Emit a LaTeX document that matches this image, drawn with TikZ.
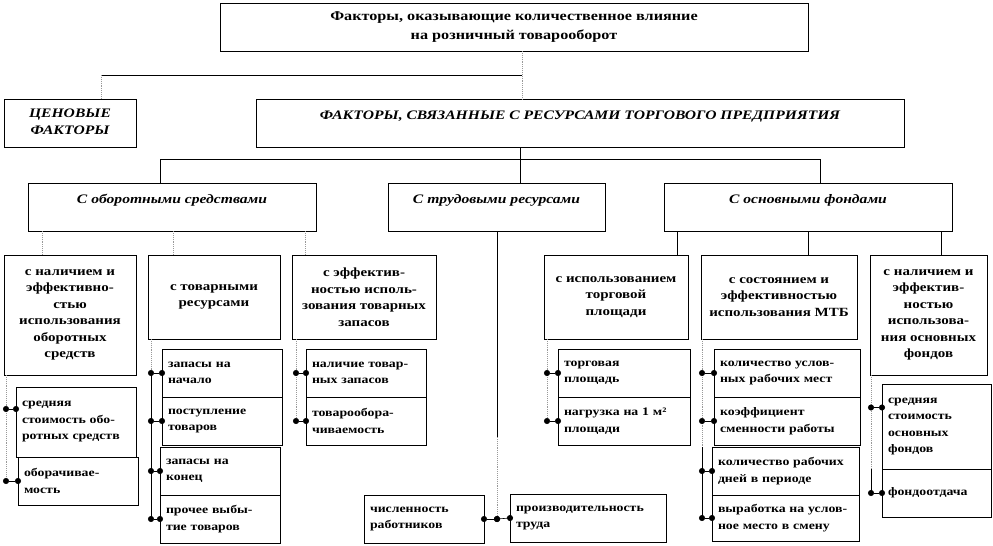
\documentclass[tikz,border=0pt]{standalone}
\usepackage{fontspec}
\setmainfont{Liberation Serif}[FakeStretch=1.2]
\usetikzlibrary{arrows.meta}
\begin{document}
\begin{tikzpicture}[x=1pt,y=-1pt,
    box/.style={draw, line width=0.8pt, outer sep=0pt, inner sep=3pt, anchor=north west, align=center,
        font=\bfseries\fontsize{12.5}{16.5}\selectfont},
    head/.style={box, font=\bfseries\itshape\fontsize{13}{16.5}\selectfont, text depth=16pt},
    leaf/.style={box, align=left, inner xsep=6pt, minimum width=#1pt, text width=#1pt-12pt,
        font=\bfseries\fontsize{11.5}{16.5}\selectfont},
    wire/.style={draw, line width=0.8pt},
    dots/.style={draw=gray!80, densely dotted, line width=0.9pt},
    bul/.style={draw, line width=0.6pt, {Circle[length=6pt]}-{Circle[length=6pt]}, shorten <=-3pt, shorten >=-3pt}]
    \useasboundingbox (0,0) rectangle (993,546);

    % upper levels
    \node[box, minimum width=588pt, minimum height=48pt, font=\bfseries\fontsize{13.5}{19}\selectfont] (top) at (220,3)
        {Факторы, оказывающие количественное влияние\\на розничный товарооборот};
    \node[head, minimum width=132pt, minimum height=48pt, text depth=3pt] (price) at (4,99) {ЦЕНОВЫЕ\\ФАКТОРЫ};
    \node[head, minimum width=648pt, minimum height=48pt] (res) at (256,99) {ФАКТОРЫ, СВЯЗАННЫЕ С РЕСУРСАМИ ТОРГОВОГО ПРЕДПРИЯТИЯ};

    \node[head, minimum width=288pt, minimum height=48pt] (circ) at (28,183) {С оборотными средствами};
    \node[head, minimum width=217pt, minimum height=48pt] (labor) at (388,183) {С трудовыми ресурсами};
    \node[head, minimum width=288pt, minimum height=48pt] (fixed) at (664,183) {С основными фондами};

    % groups
    \node[box, minimum width=132pt, minimum height=120pt] (c1) at (4,255) {с наличием и\\эффективно-\\стью\\использования\\оборотных\\средств};
    \node[box, minimum width=132pt, minimum height=84pt] (c2) at (148,255) {с товарными\\ресурсами};
    \node[box, minimum width=144pt, minimum height=84pt] (c3) at (292,255) {с эффектив-\\ностью исполь-\\зования товарных\\запасов};
    \node[box, minimum width=144pt, minimum height=84pt] (f1) at (544,255) {с использованием\\торговой\\площади};
    \node[box, minimum width=156pt, minimum height=84pt] (f2) at (701,255) {с состоянием и\\эффективностью\\использования МТБ};
    \node[box, minimum width=117pt, minimum height=120pt] (f3) at (870,255) {с наличием и\\эффектив-\\ностью\\использова-\\ния основных\\фондов};

    % leaves
    \node[leaf=120, minimum height=70pt] (c1a) at (16,387) {средняя\\стоимость обо-\\ротных средств};
    \node[leaf=120, minimum height=48pt] (c1b) at (18,457) {оборачивае-\\мость};
    \node[leaf=120, minimum height=48pt] (c2a) at (162,349) {запасы на\\начало};
    \node[leaf=120, minimum height=48pt] (c2b) at (162,397) {поступление\\товаров};
    \node[leaf=120, minimum height=48pt] (c2c) at (160,447) {запасы на\\конец};
    \node[leaf=120, minimum height=48pt] (c2d) at (160,495) {прочее выбы-\\тие товаров};
    \node[leaf=120, minimum height=48pt] (c3a) at (306,349) {наличие товар-\\ных запасов};
    \node[leaf=120, minimum height=48pt] (c3b) at (306,397) {товарообора-\\чиваемость};
    \node[leaf=120, minimum height=48pt] (n1) at (364,495) {численность\\работников};
    \node[leaf=156, minimum height=48pt] (n2) at (510,494) {производительность\\труда};
    \node[leaf=132, minimum height=48pt] (f1a) at (558,349) {торговая\\площадь};
    \node[leaf=132, minimum height=48pt] (f1b) at (558,397) {нагрузка на 1 м²\\площади};
    \node[leaf=146, minimum height=48pt] (f2a) at (714,349) {количество услов-\\ных рабочих мест};
    \node[leaf=146, minimum height=48pt] (f2b) at (714,397) {коэффициент\\сменности работы};
    \node[leaf=147, minimum height=48pt] (f2c) at (712,447) {количество рабочих\\дней в периоде};
    \node[leaf=147, minimum height=46pt] (f2d) at (712,495) {выработка на услов-\\ное место в смену};
    \node[leaf=109, minimum height=85pt] (f3a) at (882,384) {средняя\\стоимость\\основных\\фондов};
    \node[leaf=109, minimum height=48pt] (f3b) at (882,469) {фондоотдача};

    % upper connectors
    \coordinate (j0) at (522,75);
    \coordinate (jp) at (101,75);
    \draw[dots] (j0 |- top.south) -- (j0 |- res.north);
    \draw[wire] (j0) -- (jp);
    \draw[dots] (jp) -- (jp |- price.north);
    \coordinate (b1) at (160,159);
    \coordinate (b2) at (520,159);
    \coordinate (b3) at (820,159);
    \draw[wire] (b2 |- res.south) -- (b2 |- labor.north);
    \draw[wire] (b1 |- circ.north) -- (b1) -- (b3) -- (b3 |- fixed.north);
    \foreach \x/\n in {42/c1,173/c2,305/c3}
        \draw[dots] (\x,0 |- circ.south) -- (\x,0 |- \n.north);
    \foreach \x/\n in {677/f1,808/f2,941/f3}
        \draw[wire] (\x,0 |- fixed.south) -- (\x,0 |- \n.north);

    % trunks
    \coordinate (t1) at (6,375);
    \coordinate (t2) at (151,339);
    \coordinate (t3) at (296,339);
    \coordinate (t5) at (547,339);
    \coordinate (t6) at (702,339);
    \coordinate (t7) at (871,375);
    \coordinate (c1ap) at ([yshift=13pt]c1a.west);
    \coordinate (f3ap) at ([yshift=19pt]f3a.west);
    \coordinate (lj) at (497,519);
    \coordinate (lm) at (497,437);

    \draw[dots] (t1) -- (t1 |- c1b.west);
    \draw[dots] (t2) -- (t2 |- c2a.west);
    \draw[wire] (t2 |- c2a.west) -- (t2 |- c2d.west);
    \draw[dots] (t3) -- (t3 |- c3b.west);
    \draw[dots] (t5) -- (t5 |- f1b.west);
    \draw[dots] (t6) -- (t6 |- f2c.north);
    \draw[wire] (t6 |- f2c.north) -- (t6 |- f2d.west);
    \draw[dots] (t7) -- (t7 |- f3a.south);
    \draw[wire] (t7 |- f3a.south) -- (t7 |- f3b.west);
    \draw[wire] (lm |- labor.south) -- (lm);
    \draw[dots] (lm) -- (lj);

    % bullets
    \draw[bul] (t1 |- c1ap) -- (c1ap);
    \draw[bul] (t1 |- c1b.west) -- (c1b.west);
    \foreach \n in {c2a,c2b,c2c,c2d}
        \draw[bul] (t2 |- \n.west) -- (\n.west);
    \foreach \n in {c3a,c3b}
        \draw[bul] (t3 |- \n.west) -- (\n.west);
    \foreach \n in {f1a,f1b}
        \draw[bul] (t5 |- \n.west) -- (\n.west);
    \foreach \n in {f2a,f2b,f2c,f2d}
        \draw[bul] (t6 |- \n.west) -- (\n.west);
    \draw[bul] (t7 |- f3ap) -- (f3ap);
    \draw[bul] (t7 |- f3b.west) -- (f3b.west);
    \draw[bul] (lj) -- (n1.east);
    \draw[bul] (lj) -- (n2.west);
\end{tikzpicture}
\end{document}
